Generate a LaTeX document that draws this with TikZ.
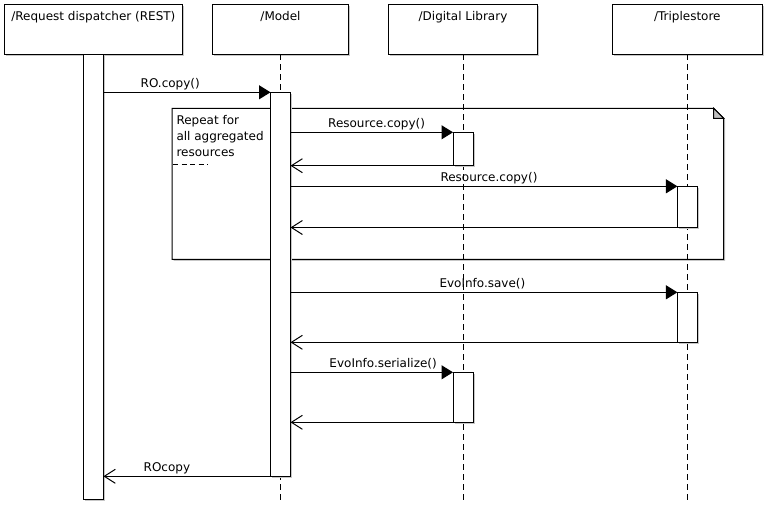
\documentclass[tikz,border=0pt]{standalone}
\usepackage{fontspec}
\setmainfont{DejaVu Sans}
\usetikzlibrary{arrows.meta, shadows}

\begin{document}
\begin{tikzpicture}[x=1pt, y=-1pt, line width=1pt,
  font=\fontsize{12}{16}\selectfont,
  boxshadow/.style={drop shadow={shadow xshift=1.5pt, shadow yshift=-1.5pt, fill=black!22, opacity=1}},
  lifehead/.style={draw, fill=white, boxshadow, inner xsep=0pt, inner ysep=0pt, outer sep=0pt, text height=16.5pt, text depth=33.8pt, anchor=north},
  lifeline/.style={dash pattern=on 6pt off 4pt},
  actbar/.style={draw, fill=white, boxshadow, minimum width=20pt, inner sep=0pt, outer sep=0pt, anchor=north},
  call/.style={-{Triangle[length=11.5pt, width=14pt]}},
  reply/.style={-{Straight Barb[length=11pt, width=14pt]}},
  msg/.style={anchor=base, yshift=5pt, inner sep=0pt}]
  \useasboundingbox (0,0) rectangle (766,504);

  % Repeat note
  \draw[fill=white, boxshadow] (172,108.3) -- (713.7,108.3) -- (723.7,118.3) -- (723.7,259.3) -- (172,259.3) -- cycle;
  \draw[fill=black!25] (713.7,108.3) -- (723.7,118.3) -- (713.7,118.3) -- cycle;
  \node[anchor=north west, align=left, inner sep=0pt] (repeat) at (176,115) {Repeat for\\all aggregated\\resources};
  \draw[dash pattern=on 5pt off 3.5pt] (173,164.3) -- (208,164.3);

  % Lifeline heads
  \node[lifehead, minimum width=178.7pt] (disp) at (93.4,4) {/Request dispatcher (REST)};
  \node[lifehead, minimum width=136.4pt] (model) at (280.5,4) {/Model};
  \node[lifehead, minimum width=149.4pt] (dlib) at (463,4) {/Digital Library};
  \node[lifehead, minimum width=150pt] (tstore) at (687.3,4) {/Triplestore};

  % Dashed lifelines
  \foreach \n in {model,dlib,tstore} {
    \draw[lifeline] (\n.south) -- (\n.south |- 0,504);
  }

  % Activation bars
  \node[actbar, minimum height=444.7pt] (dispbar) at (disp.south) {};
  \node[actbar, minimum height=384pt] (modelbar) at (280.5,92.3) {};
  \node[actbar, minimum height=33.4pt] (dlbarA) at (463,132.3) {};
  \node[actbar, minimum height=41.2pt] (tsbarA) at (687.4,186.3) {};
  \node[actbar, minimum height=50pt] (tsbarB) at (687.4,292.3) {};
  \node[actbar, minimum height=50pt] (dlbarB) at (463,372.3) {};

  % Messages
  \draw[call] (dispbar.east |- modelbar.north) -- node[msg, pos=0.4] {RO.copy()} (modelbar.north west);
  \draw[call] (modelbar.east |- dlbarA.north) -- node[msg, pos=0.53] {Resource.copy()} (dlbarA.north west);
  \draw[reply] (dlbarA.south west) -- (modelbar.east |- dlbarA.south);
  \draw[call] (modelbar.east |- tsbarA.north) -- node[msg, pos=0.513] {Resource.copy()} (tsbarA.north west);
  \draw[reply] (tsbarA.south west) -- (modelbar.east |- tsbarA.south);
  \draw[call] (modelbar.east |- tsbarB.north) -- node[msg, pos=0.496] {EvoInfo.save()} (tsbarB.north west);
  \draw[reply] (tsbarB.south west) -- (modelbar.east |- tsbarB.south);
  \draw[call] (modelbar.east |- dlbarB.north) -- node[msg, pos=0.57] {EvoInfo.serialize()} (dlbarB.north west);
  \draw[reply] (dlbarB.south west) -- (modelbar.east |- dlbarB.south);
  \draw[reply] (modelbar.south west) -- node[msg, pos=0.62] {ROcopy} (dispbar.east |- modelbar.south);
\end{tikzpicture}
\end{document}
